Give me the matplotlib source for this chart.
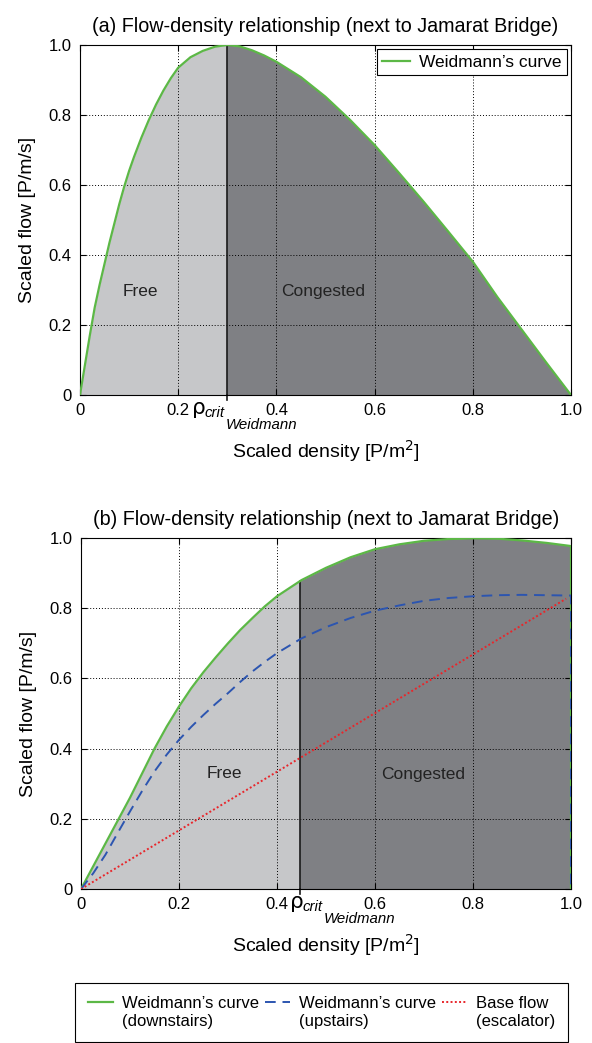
import matplotlib
matplotlib.use("Agg")
import matplotlib.pyplot as plt
from matplotlib.patches import Rectangle
from matplotlib.legend_handler import HandlerLine2D
import numpy as np

plt.rcParams["font.family"] = ["Liberation Sans", "DejaVu Sans"]

# (a) Weidmann's curve next to Jamarat Bridge
density_a = [0, 0.01, 0.02, 0.03, 0.04, 0.05, 0.06, 0.07, 0.08, 0.09, 0.1, 0.11,
             0.125, 0.14, 0.155, 0.17, 0.185, 0.2, 0.225, 0.25, 0.275, 0.3, 0.325,
             0.35, 0.375, 0.4, 0.45, 0.5, 0.55, 0.6, 0.65, 0.7, 0.75, 0.8,
             0.85, 0.9, 0.95, 1.0]
flow_a = [0, 0.085, 0.17, 0.25, 0.315, 0.375, 0.435, 0.49, 0.545, 0.595, 0.64, 0.68,
          0.735, 0.785, 0.83, 0.87, 0.905, 0.935, 0.965, 0.983, 0.995, 1.0, 0.996,
          0.985, 0.970, 0.952, 0.908, 0.852, 0.786, 0.714, 0.634, 0.552, 0.467, 0.381,
          0.280, 0.186, 0.092, 0]
crit_a = 0.3
crit_flow_a = 1.0

# (b) downstairs / upstairs / escalator
density_b = [0, 0.025, 0.05, 0.075, 0.1, 0.125, 0.15, 0.175, 0.2, 0.225, 0.25, 0.275,
             0.3, 0.325, 0.35, 0.375, 0.4, 0.45, 0.5, 0.55, 0.6, 0.65, 0.7, 0.75, 0.8,
             0.85, 0.9, 0.95, 1.0, 1.0]
flow_down = [0, 0.065, 0.13, 0.195, 0.26, 0.33, 0.40, 0.463, 0.52, 0.572, 0.618, 0.66,
             0.70, 0.738, 0.772, 0.805, 0.834, 0.88, 0.915, 0.945, 0.968, 0.982, 0.992,
             0.997, 0.999, 0.998, 0.993, 0.986, 0.977, 0]
flow_up = [0, 0.045, 0.098, 0.16, 0.221, 0.28, 0.335, 0.383, 0.425, 0.462, 0.496, 0.528,
           0.558, 0.59, 0.62, 0.647, 0.672, 0.714, 0.746, 0.772, 0.793, 0.808, 0.821,
           0.829, 0.834, 0.837, 0.838, 0.837, 0.836, 0]
density_base = [0, 0.99]
flow_base = [0, 0.827]
crit_b = 0.4475
crit_flow_b = 0.878

ticks = [0, 0.2, 0.4, 0.6, 0.8, 1.0]
tick_labels = ["0", "0.2", "0.4", "0.6", "0.8", "1.0"]
title = "Flow-density relationship (next to Jamarat Bridge)"

light = "#c6c7c9"
dark = "#7f8084"
green = "#5cb846"
blue = "#2c55b0"
red = "#e8262b"


class FirstLineHandler(HandlerLine2D):
    # put the legend line next to the first line of a two-line label
    def create_artists(self, legend, orig_handle, xdescent, ydescent, width, height,
                       fontsize, trans):
        arts = super().create_artists(legend, orig_handle, xdescent, ydescent, width,
                                      height, fontsize, trans)
        for a in arts:
            a.set_ydata(np.asarray(a.get_ydata()) + 0.62 * fontsize)
        return arts


def setup(ax, letter, crit, crit_flow, rho_x, x, y):
    # two shaded regions split at the critical density
    ax.fill_between(x, y, color=light, lw=0, zorder=1)
    dk = ax.fill_between(x, y, color=dark, lw=0, zorder=1)
    dk.set_clip_path(Rectangle((crit, -0.1), 1.0, 1.3, transform=ax.transData))
    ax.plot([crit, crit], [0, crit_flow], color="#1a1a1a", lw=1.2, zorder=3)
    ax.axvline(crit, ymin=-0.015, ymax=0, color="#1a1a1a", lw=1.2, clip_on=False)

    ax.set_xlim(0, 1)
    ax.set_ylim(0, 1)
    ax.set_xticks(ticks)
    ax.set_xticklabels(tick_labels)
    ax.set_yticks(ticks)
    ax.set_yticklabels(tick_labels)
    ax.tick_params(direction="in", top=True, right=True, labelsize=12, length=4, pad=6)
    ax.set_axisbelow(False)
    ax.grid(True, color="black", ls=(0, (1, 2)), lw=0.7)
    for s in ax.spines.values():
        s.set_linewidth(0.8)
    ax.set_title("(%s) %s" % (letter, title), fontsize=14.2, pad=9)
    ax.set_xlabel("Scaled density [P/m$^2$]", fontsize=14, labelpad=14)
    ax.set_ylabel("Scaled flow [P/m/s]", fontsize=14, labelpad=9)

    # rho_crit_Weidmann label under the axis
    tr = ax.get_xaxis_transform()
    ax.annotate("\u03c1", xy=(rho_x, 0), xycoords=tr, xytext=(2, -14),
                textcoords="offset points", fontsize=15.5, ha="left", va="baseline",
                family="DejaVu Sans")
    ax.annotate("crit", xy=(rho_x, 0), xycoords=tr, xytext=(11, -16),
                textcoords="offset points", fontsize=10.8, style="italic",
                ha="left", va="baseline")
    ax.annotate("Weidmann", xy=(rho_x, 0), xycoords=tr, xytext=(26.5, -24.5),
                textcoords="offset points", fontsize=10.8, style="italic",
                ha="left", va="baseline")


fig = plt.figure(figsize=(5.92, 10.43), dpi=100)
ax1 = fig.add_axes([0.1351, 0.6213, 0.8294, 0.3356])
ax2 = fig.add_axes([0.1368, 0.1476, 0.8277, 0.3366])

setup(ax1, "a", crit_a, crit_flow_a, 0.222, density_a, flow_a)
ax1.plot(density_a, flow_a, color=green, lw=1.6, zorder=4, label="Weidmann\u2019s curve")
ax1.text(0.124, 0.297, "Free", fontsize=12.5, ha="center", va="center", color="#222222")
ax1.text(0.496, 0.297, "Congested", fontsize=12.5, ha="center", va="center", color="#222222")
leg = ax1.legend(loc="upper right", fontsize=12.5, fancybox=False, edgecolor="black",
                 framealpha=1, handlelength=1.6, handletextpad=0.5, borderaxespad=0.25,
                 borderpad=0.3)
leg.get_frame().set_linewidth(0.8)

setup(ax2, "b", crit_b, crit_flow_b, 0.42, density_b, flow_down)
l1, = ax2.plot(density_b, flow_down, color=green, lw=1.6, zorder=4,
               label="Weidmann\u2019s curve\n(downstairs)")
l2, = ax2.plot(density_b, flow_up, color=blue, lw=1.4, ls=(0, (5.5, 3.5)), zorder=5,
               label="Weidmann\u2019s curve\n(upstairs)")
l3, = ax2.plot(density_base, flow_base, color=red, lw=1.4, ls=(0, (1, 1.2)), zorder=5,
               label="Base flow\n(escalator)")
ax2.text(0.293, 0.328, "Free", fontsize=12.5, ha="center", va="center", color="#222222")
ax2.text(0.698, 0.327, "Congested", fontsize=12.5, ha="center", va="center", color="#222222")

fleg = fig.legend(handles=[l1, l2, l3], loc="upper center", ncol=3, mode="expand",
                  bbox_to_anchor=(75 / 592, 0, 493 / 592, 1 - 983 / 1043),
                  fontsize=12, fancybox=False, edgecolor="black", framealpha=1,
                  handlelength=1.5, handletextpad=0.55, borderaxespad=0, columnspacing=0.5,
                  borderpad=0.75, handler_map={l1: FirstLineHandler(), l2: FirstLineHandler(),
                                               l3: FirstLineHandler()})
fleg.get_frame().set_linewidth(0.8)
for t in fleg.get_texts():
    t.set_linespacing(1.3)

fig.savefig("out.png", dpi=100)
